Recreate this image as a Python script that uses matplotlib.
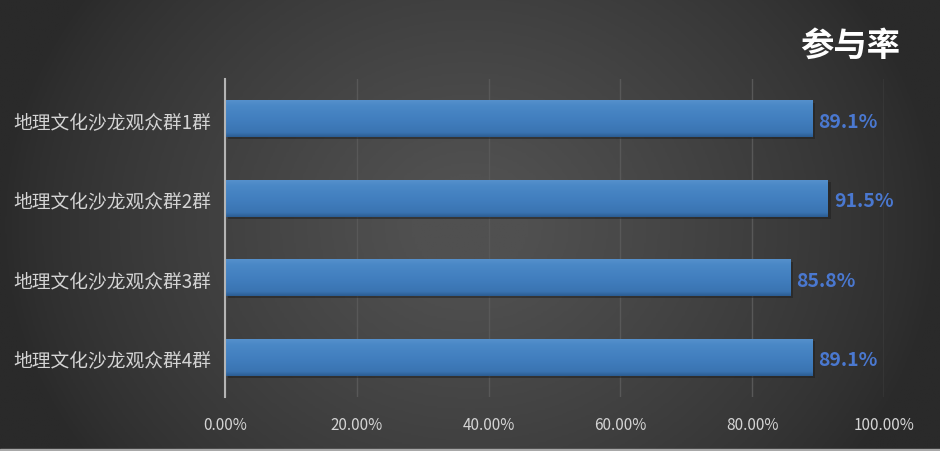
import numpy as np
import matplotlib
matplotlib.use("Agg")
import matplotlib.pyplot as plt
from matplotlib.colors import LinearSegmentedColormap

plt.rcParams['font.family'] = ['Noto Sans CJK SC', 'DejaVu Sans']

categories = ["地理文化沙龙观众群1群", "地理文化沙龙观众群2群",
              "地理文化沙龙观众群3群", "地理文化沙龙观众群4群"]
values = [0.891, 0.915, 0.858, 0.891]
value_labels = ["89.1%", "91.5%", "85.8%", "89.1%"]
xticks = [0.0, 0.2, 0.4, 0.6, 0.8, 1.0]
xtick_labels = ["0.00%", "20.00%", "40.00%", "60.00%", "80.00%", "100.00%"]
title = "参与率"

W, H = 940, 452
fig = plt.figure(figsize=(W / 100, H / 100), dpi=100)

# background gradient
bg = fig.add_axes([0, 0, 1, 1], zorder=-10)
xx, yy = np.meshgrid(np.linspace(-1, 1, 400), np.linspace(-1, 1, 200))
r = np.sqrt((xx / 1.0) ** 2 + (yy / 1.8) ** 2)
val = np.clip(1 - r, 0, 1) ** 0.8
bgcmap = LinearSegmentedColormap.from_list("bg", ["#2a2a2a", "#505050"])
bg.imshow(val, cmap=bgcmap, aspect="auto", extent=[0, 1, 0, 1], vmin=0, vmax=0.9)
bg.axhspan(0, 0.004, color="#a8a8a8")
bg.set_xlim(0, 1); bg.set_ylim(0, 1)
bg.axis("off")

ax = fig.add_axes([225 / W, 1 - 398 / H, (884 - 225) / W, (398 - 80) / H])
ax.set_facecolor("none")
y = np.arange(len(categories))

ax.set_xticks(xticks)
ax.set_xticklabels(xtick_labels, color="#d4d4d4", fontsize=11)
ax.set_yticks(y)
ax.set_yticklabels(categories, color="#d4d4d4", fontsize=13.5)
ax.tick_params(axis="y", length=0, pad=10)
ax.tick_params(axis="x", length=0, pad=14)
ax.xaxis.grid(True, color="#585858", linewidth=1.0)
ax.set_axisbelow(True)
for s in ["top", "right", "bottom"]:
    ax.spines[s].set_visible(False)
ax.spines["left"].set_color("#b4b4b4")
ax.spines["left"].set_linewidth(1.5)
ax.spines["left"].set_zorder(5)

bar_h = 0.46
barcmap = LinearSegmentedColormap.from_list(
    "bar", [(0, "#2c5d93"), (0.12, "#3a74b2"), (0.5, "#427fbf"), (0.85, "#4a88c6"), (1, "#5590cc")])
grad = np.linspace(1, 0, 100).reshape(-1, 1)
# shadows
ax.barh(y + 0.03, values, height=bar_h, color="#1e1e1e", alpha=0.5, zorder=2, left=0.004)
bars = ax.barh(y, values, height=bar_h, color="#3f7bbd", zorder=3)
for b, yi, v, lab in zip(bars, y, values, value_labels):
    im = ax.imshow(grad, cmap=barcmap, aspect="auto", origin="upper",
                   extent=[0, v, yi + bar_h / 2, yi - bar_h / 2], zorder=3.5,
                   vmin=0, vmax=1)
    im.set_clip_path(b)
    ax.text(v + 0.009, yi + 0.03, lab, va="center", ha="left",
            color="#4a78d0", fontsize=14, fontweight="bold", zorder=6)
ax.set_xlim(0, 1)
ax.set_ylim(len(categories) - 0.5, -0.5)

fig.text(850 / W, 1 - 46 / H, title, color="white", fontsize=24, fontweight="bold",
         ha="center", va="center")

fig.savefig("out.png", dpi=100)
